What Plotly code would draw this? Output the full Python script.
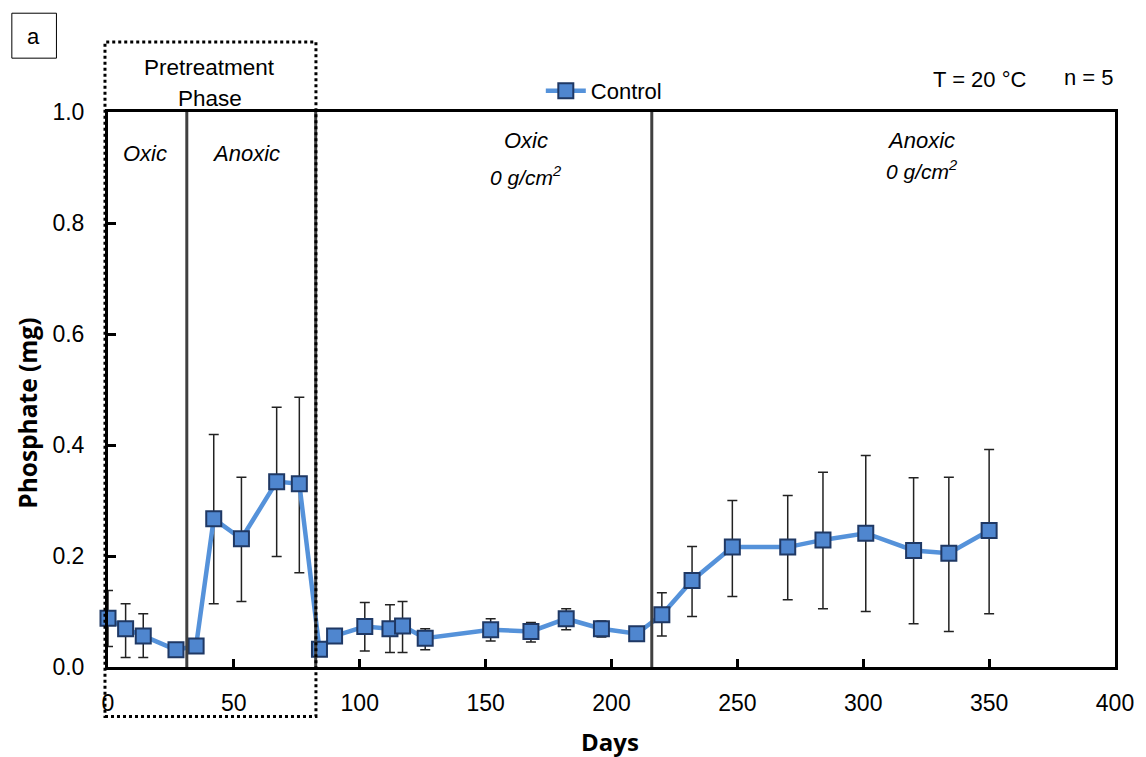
import plotly.graph_objects as go

# ---- data ----
days = [0, 7, 14, 27, 35, 42, 53, 67, 76, 84, 90, 102, 112, 117, 126, 152, 168,
        182, 196, 210, 220, 232, 248, 270, 284, 301, 320, 334, 350]
phosphate = [0.088, 0.069, 0.056, 0.031, 0.038, 0.267, 0.231, 0.334, 0.330, 0.032,
             0.056, 0.073, 0.069, 0.074, 0.052, 0.067, 0.064, 0.087, 0.069, 0.060,
             0.094, 0.156, 0.216, 0.216, 0.229, 0.241, 0.210, 0.205, 0.246]
err_plus = [0.050, 0.045, 0.040, 0.0, 0.0, 0.152, 0.111, 0.134, 0.156, 0.0,
            0.0, 0.043, 0.043, 0.044, 0.017, 0.020, 0.016, 0.018, 0.014, 0.0,
            0.040, 0.061, 0.084, 0.093, 0.122, 0.140, 0.131, 0.137, 0.146]
err_minus = [0.051, 0.052, 0.039, 0.0, 0.0, 0.153, 0.113, 0.135, 0.160, 0.0,
             0.0, 0.044, 0.043, 0.048, 0.021, 0.020, 0.019, 0.020, 0.015, 0.0,
             0.038, 0.065, 0.089, 0.095, 0.124, 0.141, 0.132, 0.141, 0.150]
phase_bounds = [31.3, 82.5, 216]
x_ticks = [0, 50, 100, 150, 200, 250, 300, 350, 400]
y_ticks = [0.0, 0.2, 0.4, 0.6, 0.8, 1.0]

REG = "Liberation Sans, Arial"
BOLD = "Open Sans, Segoe UI, DejaVu Sans"

fig = go.Figure()
fig.add_trace(go.Scatter(
    x=days, y=phosphate, mode="lines+markers", name="Control",
    line=dict(color="#5592DA", width=4.5),
    marker=dict(symbol="square", size=15, color="#4F86CF",
                line=dict(color="#1F3864", width=2)),
    error_y=dict(type="data", symmetric=False, array=err_plus,
                 arrayminus=err_minus, color="#222222", thickness=1.5, width=5),
    cliponaxis=False,
))

shapes = []
for xb in phase_bounds:
    shapes.append(dict(type="line", xref="x", yref="paper", x0=xb, x1=xb,
                       y0=0, y1=1, line=dict(color="#404040", width=3),
                       layer="above"))
# dotted "pretreatment phase" frame
shapes.append(dict(type="rect", xref="paper", yref="paper",
                   x0=-0.003, x1=0.2065, y0=-0.089, y1=1.126,
                   line=dict(color="black", width=3, dash="dot"), layer="above"))
# box around panel letter
shapes.append(dict(type="rect", xref="paper", yref="paper",
                   x0=-0.0955, x1=-0.0512, y0=1.097, y1=1.178,
                   line=dict(color="black", width=1)))

ann = []
def txt(text, x, y, xref="x", yref="paper", size=20, font=REG, **kw):
    ann.append(dict(text=text, x=x, y=y, xref=xref, yref=yref, showarrow=False,
                    xanchor="center", yanchor="middle",
                    font=dict(family=font, size=size, color="black"), **kw))

txt("Pretreatment", 40.5, (667 - 68) / 555, size=22.5)
txt("Phase", 40.5, (667 - 98) / 555, size=22.5)
txt("<i>Oxic</i>", 14.6, (667 - 153) / 555, size=22)
txt("<i>Anoxic</i>", 54.7, (667 - 153) / 555, size=22)
txt("<i>Oxic</i>", 166, (667 - 140) / 555, size=22)
txt("<i>0 g/cm<sup>2</sup></i>", 166, (667 - 176) / 555, size=21)
txt("<i>Anoxic</i>", 323, (667 - 140) / 555, size=22)
txt("<i>0 g/cm<sup>2</sup></i>", 323, (667 - 170) / 555, size=21)
txt("T = 20 °C", 0.865, (667 - 80) / 555, xref="paper", size=22)
txt("n = 5", 0.974, (667 - 78) / 555, xref="paper", size=22)
txt("a", (33 - 108) / 1016, (667 - 36) / 555, xref="paper", size=22)
txt("<b>Days</b>", 0.499, (667 - 741) / 555, xref="paper", size=24, font=BOLD)
txt("<b>Phosphate (mg)</b>", (26 - 108) / 1016, (667 - 413) / 555, xref="paper",
    size=24.5, font=BOLD, textangle=-90)

axis_common = dict(showline=True, mirror=True, linecolor="black", linewidth=3,
                   ticks="inside", ticklen=8, tickwidth=3, tickcolor="black",
                   showgrid=False, zeroline=False,
                   tickfont=dict(family=REG, size=23, color="black"))
fig.update_xaxes(range=[0, 400], tickvals=x_ticks, ticklabelstandoff=13,
                 **axis_common)
fig.update_yaxes(range=[0, 1], tickvals=y_ticks, tickformat=".1f",
                 ticklabelstandoff=16, **axis_common)

fig.update_layout(
    width=1146, height=757,
    margin=dict(l=108, r=22, t=112, b=90),
    paper_bgcolor="white", plot_bgcolor="white",
    shapes=shapes, annotations=ann,
    showlegend=True,
    legend=dict(x=0.4298, y=(667 - 91) / 555, xanchor="left", yanchor="middle",
                bgcolor="rgba(0,0,0,0)", itemwidth=40,
                font=dict(family=REG, size=22, color="black")),
)
fig.write_html("out.html")
